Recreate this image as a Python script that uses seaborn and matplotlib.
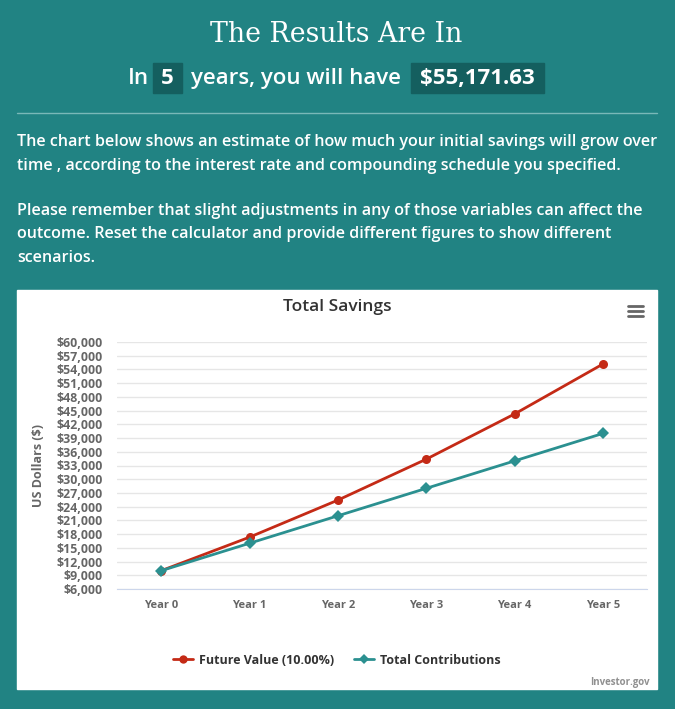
import numpy as np
import pandas as pd
import matplotlib
matplotlib.use("Agg")
import matplotlib.pyplot as plt
import seaborn as sns
from matplotlib.patches import Rectangle
from matplotlib.lines import Line2D

# ---- data ----
years = ["Year 0", "Year 1", "Year 2", "Year 3", "Year 4", "Year 5"]
future_value = [10000, 17330, 25427, 34373, 44255, 55172]
contributions = [10000, 16000, 22000, 28000, 34000, 40000]
series_names = ["Future Value (10.00%)", "Total Contributions"]
y_ticks = list(range(6000, 60001, 3000))

BG = "#218383"
BOX = "#145f5f"
RED = "#c42a16"
TEAL = "#2b9090"

sns.set_style("white")
plt.rcParams["font.family"] = ["Open Sans", "DejaVu Sans"]

df = pd.DataFrame({
    "pos": list(range(len(years))) * 2,
    "value": future_value + contributions,
    "series": [series_names[0]] * len(years) + [series_names[1]] * len(years),
})

W, H = 675, 709
fig = plt.figure(figsize=(W / 100, H / 100), dpi=100, facecolor=BG)

def fx(px):
    return px / W

def fy(py):
    return 1 - py / H

# header
fig.text(fx(336), fy(35), "The Results Are In", ha="center", va="center",
         color="white", fontsize=19.3, family=["DejaVu Serif"])

sub_y = fy(78.5)
fig.patches.append(Rectangle((fx(153), fy(93)), fx(29), (93 - 63) / H,
                             transform=fig.transFigure, color=BOX, zorder=-1))
fig.patches.append(Rectangle((fx(411), fy(93)), fx(133), (93 - 63) / H,
                             transform=fig.transFigure, color=BOX, zorder=-1))
fig.text(fx(138), sub_y, "In", ha="center", va="center", color="white",
         fontsize=16, fontweight="semibold")
fig.text(fx(167.5), sub_y, "5", ha="center", va="center", color="white",
         fontsize=16, fontweight="bold")
fig.text(fx(296), sub_y, "years, you will have", ha="center", va="center",
         color="white", fontsize=16, fontweight="semibold")
fig.text(fx(477.5), sub_y, "$55,171.63", ha="center", va="center",
         color="white", fontsize=16, fontweight="bold")

fig.add_artist(Line2D([fx(17), fx(657)], [fy(113), fy(113)],
                      transform=fig.transFigure, color="#7ab8b8", lw=1))

para = [
    (142, "The chart below shows an estimate of how much your initial savings will grow over"),
    (166, "time , according to the interest rate and compounding schedule you specified."),
    (211, "Please remember that slight adjustments in any of those variables can affect the"),
    (234, "outcome. Reset the calculator and provide different figures to show different"),
    (258, "scenarios."),
]
for py, t in para:
    fig.text(fx(17), fy(py), t, ha="left", va="center", color="white",
             fontsize=11.6, fontweight="semibold")

# white chart panel
fig.patches.append(Rectangle((fx(17), fy(689)), fx(640), (689 - 290) / H,
                             transform=fig.transFigure, color="white", zorder=-1))

fig.text(fx(337), fy(307), "Total Savings", ha="center", va="center",
         color="#333333", fontsize=12.5, fontweight="semibold")
# menu icon
for py in (306, 311, 316):
    fig.add_artist(Line2D([fx(628), fx(643)], [fy(py), fy(py)],
                          transform=fig.transFigure, color="#666666", lw=2,
                          solid_capstyle="round", zorder=3))

ax = fig.add_axes([fx(117), fy(589), fx(530), (589 - 342) / H])
ax.set_zorder(2)
ax.set_facecolor("white")
sns.lineplot(data=df, x="pos", y="value", hue="series", style="series",
             markers={series_names[0]: "o", series_names[1]: "D"},
             dashes=False, palette={series_names[0]: RED, series_names[1]: TEAL},
             markersize=6.5, linewidth=2, markeredgewidth=0, ax=ax, legend=False)

ax.set_xlim(-0.5, len(years) - 0.5)
ax.set_ylim(y_ticks[0], y_ticks[-1])
ax.set_yticks(y_ticks)
ax.set_yticklabels([f"${v:,}" for v in y_ticks], fontsize=8.9, fontweight="bold",
                   color="#666666")
ax.set_xticks(range(len(years)))
ax.set_xticklabels(years, fontsize=8, fontweight="bold", color="#666666")
ax.set_xticks(np.arange(-0.5, len(years)), minor=True)
ax.tick_params(axis="x", which="major", length=0, pad=8)
ax.tick_params(axis="x", which="minor", length=10, color="#ccd6eb", width=1)
ax.tick_params(axis="y", length=0, pad=10)
ax.grid(axis="y", color="#e6e6e6", lw=1)
ax.set_axisbelow(True)
for s in ("top", "right", "left"):
    ax.spines[s].set_visible(False)
ax.spines["bottom"].set_color("#ccd6eb")
ax.set_xlabel("")
ax.set_ylabel("US Dollars ($)", fontsize=9, fontweight="bold", color="#666666")
ax.yaxis.set_label_coords((45 - 117) / 530, 0.5)

handles = [
    Line2D([], [], color=RED, marker="o", markersize=6, lw=2, markeredgewidth=0),
    Line2D([], [], color=TEAL, marker="D", markersize=5, lw=2, markeredgewidth=0),
]
leg = fig.legend(handles, series_names, loc="center", bbox_to_anchor=(fx(337), fy(660)),
                 ncol=2, frameon=False, handlelength=1.6, columnspacing=1.6,
                 handletextpad=0.5, prop={"size": 9, "weight": "bold"})
for t in leg.get_texts():
    t.set_color("#333333")

fig.text(fx(650), fy(682), "Investor.gov", ha="right", va="center",
         color="#909090", fontsize=7, fontweight="bold")

fig.savefig("out.png", dpi=100, facecolor=BG)
